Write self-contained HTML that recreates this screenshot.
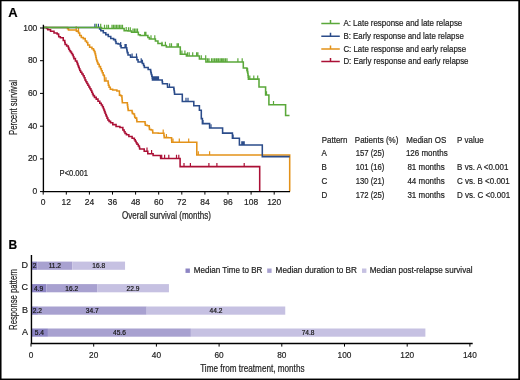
<!DOCTYPE html>
<html><head><meta charset="utf-8"><style>
html,body{margin:0;padding:0;background:#fff;}
svg{display:block;font-family:"Liberation Sans",sans-serif;will-change:transform;}
text{stroke:#222;stroke-width:0.2px;}
</style></head><body>
<svg width="520" height="380" viewBox="0 0 520 380">
<rect width="520" height="380" fill="#fff"/>
<rect x="0" y="0" width="520" height="1.25" fill="#000"/>
<rect x="0" y="0" width="1.53" height="380" fill="#000"/>
<rect x="518.28" y="0" width="1.72" height="380" fill="#000"/>
<rect x="0" y="378.55" width="520" height="1.45" fill="#000"/>
<text x="8.2" y="17" font-size="13" font-weight="bold" fill="#000">A</text>
<path d="M43.20,27.40 L67.50,27.40 L67.50,28.70 L68.50,28.70 L68.50,29.90 L69.50,29.90 L76.20,29.90 L76.40,29.90 L76.40,31.10 L76.60,31.10 L77.40,31.10 L77.40,31.50 L78.20,31.50 L78.55,31.50 L78.55,33.00 L78.90,33.00 L79.70,33.00 L79.70,35.40 L80.50,35.40 L81.30,35.40 L81.30,37.40 L82.10,37.40 L83.30,37.40 L83.30,38.60 L84.50,38.60 L85.25,38.60 L85.25,40.90 L86.00,40.90 L86.60,40.90 L86.60,42.50 L87.20,42.50 L87.80,42.50 L87.80,44.90 L88.40,44.90 L89.60,44.90 L89.60,47.30 L90.80,47.30 L91.95,47.30 L91.95,48.80 L93.10,48.80 L93.50,48.80 L93.50,50.20 L94.30,50.20 L94.30,51.60 L94.70,51.60 L95.00,51.60 L95.00,53.60 L95.30,53.60 L95.50,53.60 L95.50,55.57 L95.90,55.57 L95.90,57.53 L96.30,57.53 L96.30,59.50 L96.50,59.50 L96.80,59.50 L96.80,61.07 L97.40,61.07 L97.40,62.63 L98.00,62.63 L98.00,64.20 L98.30,64.20 L99.20,64.20 L99.20,66.60 L100.10,66.60 L100.52,66.60 L100.52,68.65 L101.38,68.65 L101.38,70.70 L101.80,70.70 L102.25,70.70 L102.25,72.80 L103.15,72.80 L103.15,74.90 L103.60,74.90 L104.00,74.90 L104.00,75.70 L104.40,75.70 L104.43,75.70 L104.43,77.47 L104.50,77.47 L104.50,79.23 L104.57,79.23 L104.57,81.00 L104.60,81.00 L108.00,81.00 L108.12,81.00 L108.12,83.10 L108.38,83.10 L108.38,85.20 L108.50,85.20 L109.10,85.20 L109.10,87.25 L110.30,87.25 L110.30,89.30 L110.90,89.30 L112.65,89.30 L112.65,89.90 L114.40,89.90 L116.90,89.90 L116.90,90.90 L119.40,90.90 L119.43,90.90 L119.43,93.00 L119.47,93.00 L119.47,95.10 L119.50,95.10 L120.65,95.10 L120.65,95.70 L121.80,95.70 L121.88,95.70 L121.88,97.47 L122.03,97.47 L122.03,99.25 L122.17,99.25 L122.17,101.03 L122.33,101.03 L122.33,102.80 L122.40,102.80 L127.20,102.80 L127.35,102.80 L127.35,104.85 L127.65,104.85 L127.65,106.90 L127.80,106.90 L127.92,106.90 L127.92,108.65 L128.18,108.65 L128.18,110.40 L128.30,110.40 L131.90,110.40 L132.05,110.40 L132.05,111.90 L132.35,111.90 L132.35,113.40 L132.50,113.40 L133.40,113.40 L133.40,114.00 L134.30,114.00 L134.45,114.00 L134.45,115.75 L134.75,115.75 L134.75,117.50 L134.90,117.50 L135.75,117.50 L135.75,118.10 L136.60,118.10 L136.70,118.10 L136.70,119.90 L136.90,119.90 L136.90,121.70 L137.00,121.70 L144.90,121.70 L145.05,121.70 L145.05,123.45 L145.35,123.45 L145.35,125.20 L145.50,125.20 L147.30,125.20 L147.30,125.80 L149.10,125.80 L149.22,125.80 L149.22,127.60 L149.47,127.60 L149.47,129.40 L149.60,129.40 L151.10,129.40 L151.10,130.00 L152.60,130.00 L152.65,130.00 L152.65,131.50 L152.75,131.50 L152.75,133.00 L152.80,133.00 L158.30,133.00 L158.30,133.20 L163.80,133.20 L163.93,133.20 L163.93,135.40 L164.18,135.40 L164.18,137.60 L164.30,137.60 L167.90,137.60 L167.90,137.80 L171.50,137.80 L171.60,137.80 L171.60,140.05 L171.80,140.05 L171.80,142.30 L171.90,142.30 L196.80,142.30 L196.80,155.00 L289.70,155.00 L289.70,191.60" stroke="#e39219" stroke-width="1.55" fill="none"/>
<path d="M76.2,29.9 V26.2 M78.5,31.5 V27.8 M106.0,81.0 V77.3 M163.2,133.2 V129.5 M166.4,137.6 V133.9 M173.0,142.3 V138.6 M179.3,142.3 V138.6 M188.7,142.3 V138.6 M198.3,155.0 V151.3 M209.6,155.0 V151.3" stroke="#e39219" stroke-width="1.2" fill="none"/>
<path d="M43.20,27.40 L46.30,27.40 L46.55,27.40 L46.55,28.50 L46.80,28.50 L47.80,28.50 L47.80,29.80 L48.80,29.80 L50.55,29.80 L50.55,31.20 L52.30,31.20 L54.00,31.20 L54.00,32.90 L55.70,32.90 L57.10,32.90 L57.10,33.90 L58.50,33.90 L58.58,33.90 L58.58,35.30 L58.72,35.30 L58.72,36.70 L58.80,36.70 L60.35,36.70 L60.35,37.70 L61.90,37.70 L63.25,37.70 L63.25,40.40 L64.60,40.40 L64.77,40.40 L64.77,42.45 L65.12,42.45 L65.12,44.50 L65.30,44.50 L66.65,44.50 L66.65,45.90 L68.00,45.90 L68.28,45.90 L68.28,47.60 L68.82,47.60 L68.82,49.30 L69.10,49.30 L69.57,49.30 L69.57,50.65 L70.53,50.65 L70.53,52.00 L71.00,52.00 L71.50,52.00 L71.50,53.50 L72.50,53.50 L72.50,55.00 L73.00,55.00 L73.30,55.00 L73.30,56.80 L73.90,56.80 L73.90,58.60 L74.20,58.60 L75.40,58.60 L75.40,60.90 L76.60,60.90 L76.88,60.90 L76.88,62.50 L77.45,62.50 L77.45,64.10 L78.02,64.10 L78.02,65.70 L78.30,65.70 L78.60,65.70 L78.60,67.27 L79.20,67.27 L79.20,68.83 L79.80,68.83 L79.80,70.40 L80.10,70.40 L80.70,70.40 L80.70,72.17 L81.90,72.17 L81.90,73.93 L83.10,73.93 L83.10,75.70 L83.70,75.70 L84.12,75.70 L84.12,77.80 L84.98,77.80 L84.98,79.90 L85.40,79.90 L85.90,79.90 L85.90,81.67 L86.90,81.67 L86.90,83.43 L87.90,83.43 L87.90,85.20 L88.40,85.20 L88.90,85.20 L88.90,86.97 L89.90,86.97 L89.90,88.73 L90.90,88.73 L90.90,90.50 L91.40,90.50 L91.77,90.50 L91.77,92.20 L92.50,92.20 L92.50,93.90 L93.23,93.90 L93.23,95.60 L93.60,95.60 L94.47,95.60 L94.47,97.35 L96.22,97.35 L96.22,99.10 L97.10,99.10 L98.00,99.10 L98.00,101.20 L99.80,101.20 L99.80,103.30 L100.70,103.30 L101.28,103.30 L101.28,105.05 L102.42,105.05 L102.42,106.80 L103.00,106.80 L103.30,106.80 L103.30,108.40 L103.90,108.40 L103.90,110.00 L104.50,110.00 L104.50,111.60 L104.80,111.60 L105.10,111.60 L105.10,113.17 L105.70,113.17 L105.70,114.73 L106.30,114.73 L106.30,116.30 L106.60,116.30 L107.02,116.30 L107.02,118.10 L107.88,118.10 L107.88,119.90 L108.30,119.90 L109.05,119.90 L109.05,121.35 L110.55,121.35 L110.55,122.80 L111.30,122.80 L112.80,122.80 L112.80,124.60 L114.30,124.60 L116.05,124.60 L116.05,126.40 L117.80,126.40 L119.90,126.40 L119.90,127.50 L122.00,127.50 L122.85,127.50 L122.85,129.90 L123.70,129.90 L124.15,129.90 L124.15,131.70 L125.05,131.70 L125.05,133.50 L125.50,133.50 L126.45,133.50 L126.45,134.70 L127.40,134.70 L128.85,134.70 L128.85,136.50 L130.30,136.50 L132.10,136.50 L132.10,138.30 L133.90,138.30 L134.35,138.30 L134.35,139.75 L135.25,139.75 L135.25,141.20 L135.70,141.20 L136.12,141.20 L136.12,142.70 L136.97,142.70 L136.97,144.20 L137.40,144.20 L138.30,144.20 L138.30,146.00 L139.20,146.00 L139.35,146.00 L139.35,147.45 L139.65,147.45 L139.65,148.90 L139.80,148.90 L143.90,148.90 L144.20,148.90 L144.20,151.30 L144.50,151.30 L147.50,151.30 L147.80,151.30 L147.80,153.70 L148.10,153.70 L152.80,153.70 L153.10,153.70 L153.10,155.40 L153.40,155.40 L160.50,155.40 L160.55,155.40 L160.55,156.90 L160.65,156.90 L160.65,158.40 L160.70,158.40 L180.10,158.40 L180.10,166.60 L259.70,166.60 L259.70,191.60" stroke="#ab1036" stroke-width="1.55" fill="none"/>
<path d="M147.0,151.3 V147.6 M151.6,153.7 V150.0 M161.7,158.4 V154.7 M164.6,158.4 V154.7 M168.8,158.4 V154.7 M176.5,158.4 V154.7 M178.8,158.4 V154.7 M184.0,166.6 V162.9 M190.4,166.6 V162.9 M208.9,166.6 V162.9 M216.9,166.6 V162.9 M244.2,166.6 V162.9" stroke="#ab1036" stroke-width="1.2" fill="none"/>
<path d="M43.20,27.40 L99.60,27.40 L99.60,28.90 L100.84,28.90 L100.84,30.80 L103.32,30.80 L103.32,32.70 L105.80,32.70 L105.80,34.60 L108.28,34.60 L108.28,36.50 L110.76,36.50 L110.76,38.40 L112.00,38.40 L113.60,38.40 L113.60,39.60 L115.20,39.60 L115.47,39.60 L115.47,41.55 L116.03,41.55 L116.03,43.50 L116.30,43.50 L118.10,43.50 L118.10,43.90 L119.90,43.90 L120.30,43.90 L120.30,45.85 L121.10,45.85 L121.10,47.80 L121.50,47.80 L126.60,47.80 L126.73,47.80 L126.73,49.40 L127.00,49.40 L127.00,51.00 L127.27,51.00 L127.27,52.60 L127.40,52.60 L128.00,52.60 L128.00,55.00 L128.60,55.00 L130.55,55.00 L130.55,57.30 L132.50,57.30 L136.50,57.30 L136.90,57.30 L136.90,59.70 L137.30,59.70 L138.05,59.70 L138.05,62.00 L138.80,62.00 L141.50,62.00 L142.35,62.00 L142.35,63.50 L143.20,63.50 L143.57,63.50 L143.57,65.45 L144.32,65.45 L144.32,67.40 L144.70,67.40 L147.90,67.40 L148.15,67.40 L148.15,69.50 L148.40,69.50 L150.50,69.50 L150.62,69.50 L150.62,71.05 L150.88,71.05 L150.88,72.60 L151.00,72.60 L151.28,72.60 L151.28,74.45 L151.82,74.45 L151.82,76.30 L152.10,76.30 L152.22,76.30 L152.22,78.15 L152.47,78.15 L152.47,80.00 L152.60,80.00 L162.10,80.00 L162.22,80.00 L162.22,81.85 L162.47,81.85 L162.47,83.70 L162.60,83.70 L167.40,83.70 L167.45,83.70 L167.45,85.45 L167.55,85.45 L167.55,87.20 L167.60,87.20 L173.70,87.20 L173.82,87.20 L173.82,88.85 L174.07,88.85 L174.07,90.50 L174.20,90.50 L174.32,90.50 L174.32,92.35 L174.57,92.35 L174.57,94.20 L174.70,94.20 L178.50,94.20 L178.50,94.30 L182.30,94.30 L182.30,101.50 L193.80,101.50 L193.80,105.80 L199.40,105.80 L199.40,110.30 L201.30,110.30 L201.30,118.60 L202.40,118.60 L202.40,123.60 L209.60,123.60 L209.60,127.90 L222.60,127.90 L222.60,133.10 L232.40,133.10 L232.40,138.30 L239.40,138.30 L239.40,145.00 L262.30,145.00 L262.30,156.60 L289.70,156.60" stroke="#2b4c8a" stroke-width="1.55" fill="none"/>
<path d="M94.9,27.4 V23.7 M98.4,27.4 V23.7 M120.7,45.8 V42.1 M125.0,47.8 V44.1 M126.2,47.8 V44.1 M132.1,57.3 V53.6 M136.5,57.3 V53.6 M141.2,62.0 V58.3 M142.4,63.5 V59.8 M153.5,80.0 V76.3 M154.5,80.0 V76.3 M155.5,80.0 V76.3 M156.5,80.0 V76.3 M157.5,80.0 V76.3 M158.5,80.0 V76.3 M169.5,87.2 V83.5 M186.0,101.5 V97.8 M188.0,101.5 V97.8 M203.0,123.6 V119.9 M211.0,127.9 V124.2 M233.1,138.3 V134.6 M241.8,145.0 V141.3 M243.0,145.0 V141.3 M244.2,145.0 V141.3" stroke="#2b4c8a" stroke-width="1.2" fill="none"/>
<path d="M43.20,27.40 L101.60,27.40 L101.60,28.50 L123.80,28.50 L124.15,28.50 L124.15,30.80 L124.50,30.80 L128.00,30.80 L128.00,30.90 L131.50,30.90 L131.50,32.20 L134.35,32.20 L134.35,32.30 L137.20,32.30 L138.35,32.30 L138.35,34.70 L139.50,34.70 L140.10,34.70 L140.10,35.50 L140.70,35.50 L147.00,35.50 L147.90,35.50 L147.90,37.50 L148.80,37.50 L149.35,37.50 L149.35,39.00 L149.90,39.00 L154.50,39.00 L155.40,39.00 L155.40,41.00 L156.30,41.00 L157.95,41.00 L157.95,43.50 L159.60,43.50 L161.90,43.50 L161.90,45.40 L164.20,45.40 L166.35,45.40 L166.35,46.90 L168.50,46.90 L180.30,46.90 L180.30,54.30 L186.40,54.30 L186.40,56.00 L199.40,56.00 L199.40,59.00 L205.90,59.00 L205.90,62.00 L243.30,62.00 L243.30,67.90 L246.60,67.90 L246.90,67.90 L246.90,70.50 L247.20,70.50 L247.38,70.50 L247.38,71.85 L247.72,71.85 L247.72,73.20 L247.90,73.20 L248.00,73.20 L248.00,75.17 L248.20,75.17 L248.20,77.13 L248.40,77.13 L248.40,79.10 L248.50,79.10 L259.00,79.10 L259.00,87.00 L265.60,87.00 L265.60,94.90 L268.90,94.90 L268.90,104.70 L285.60,104.70 L285.60,115.50 L289.50,115.50" stroke="#5aa83a" stroke-width="1.55" fill="none"/>
<path d="M96.4,27.4 V23.7 M100.7,27.4 V23.7 M104.5,28.5 V24.8 M106.8,28.5 V24.8 M108.5,28.5 V24.8 M112.0,28.5 V24.8 M113.5,28.5 V24.8 M115.0,28.5 V24.8 M116.5,28.5 V24.8 M118.0,28.5 V24.8 M119.5,28.5 V24.8 M121.0,28.5 V24.8 M122.5,28.5 V24.8 M126.2,30.8 V27.1 M128.5,30.9 V27.2 M130.3,30.9 V27.2 M133.0,32.2 V28.5 M134.5,32.3 V28.6 M136.0,32.3 V28.6 M137.5,32.3 V28.6 M144.7,35.5 V31.8 M145.9,35.5 V31.8 M151.0,39.0 V35.3 M154.8,39.0 V35.3 M162.0,45.4 V41.7 M165.4,45.4 V41.7 M169.8,46.9 V43.2 M171.5,46.9 V43.2 M177.1,46.9 V43.2 M178.4,46.9 V43.2 M181.9,54.3 V50.6 M184.9,54.3 V50.6 M187.5,56.0 V52.3 M189.2,56.0 V52.3 M192.7,56.0 V52.3 M196.6,56.0 V52.3 M197.9,56.0 V52.3 M201.3,59.0 V55.3 M205.7,59.0 V55.3 M207.6,62.0 V58.3 M209.0,62.0 V58.3 M211.5,62.0 V58.3 M213.0,62.0 V58.3 M214.5,62.0 V58.3 M216.0,62.0 V58.3 M217.1,62.0 V58.3 M218.5,62.0 V58.3 M220.0,62.0 V58.3 M221.4,62.0 V58.3 M222.7,62.0 V58.3 M224.0,62.0 V58.3 M225.5,62.0 V58.3 M227.0,62.0 V58.3 M237.9,62.0 V58.3 M242.2,62.0 V58.3 M247.6,71.8 V68.1 M249.8,79.1 V75.4 M253.8,79.1 V75.4 M257.7,79.1 V75.4 M266.5,94.9 V91.2 M273.5,104.7 V101.0" stroke="#5aa83a" stroke-width="1.2" fill="none"/>
<path d="M43.4,24.8 V191.55 H290" stroke="#000" stroke-width="1.35" fill="none"/>
<path d="M40,191.6 H43.4 M40,158.9 H43.4 M40,126.2 H43.4 M40,93.4 H43.4 M40,60.7 H43.4 M40,28.0 H43.4 M43.2,191.6 V194.6 M66.3,191.6 V194.6 M89.4,191.6 V194.6 M112.5,191.6 V194.6 M135.6,191.6 V194.6 M158.7,191.6 V194.6 M181.8,191.6 V194.6 M204.9,191.6 V194.6 M228.0,191.6 V194.6 M251.1,191.6 V194.6 M274.2,191.6 V194.6" stroke="#000" stroke-width="1" fill="none"/>
<text transform="translate(37.3,194.10) scale(0.9,1)" font-size="9.4" text-anchor="end" fill="#222">0</text>
<text transform="translate(37.3,161.38) scale(0.9,1)" font-size="9.4" text-anchor="end" fill="#222">20</text>
<text transform="translate(37.3,128.66) scale(0.9,1)" font-size="9.4" text-anchor="end" fill="#222">40</text>
<text transform="translate(37.3,95.94) scale(0.9,1)" font-size="9.4" text-anchor="end" fill="#222">60</text>
<text transform="translate(37.3,63.22) scale(0.9,1)" font-size="9.4" text-anchor="end" fill="#222">80</text>
<text transform="translate(37.3,30.50) scale(0.9,1)" font-size="9.4" text-anchor="end" fill="#222">100</text>
<text transform="translate(43.20,205.2) scale(0.9,1)" font-size="9.4" text-anchor="middle" fill="#222">0</text>
<text transform="translate(66.30,205.2) scale(0.9,1)" font-size="9.4" text-anchor="middle" fill="#222">12</text>
<text transform="translate(89.40,205.2) scale(0.9,1)" font-size="9.4" text-anchor="middle" fill="#222">24</text>
<text transform="translate(112.50,205.2) scale(0.9,1)" font-size="9.4" text-anchor="middle" fill="#222">36</text>
<text transform="translate(135.60,205.2) scale(0.9,1)" font-size="9.4" text-anchor="middle" fill="#222">48</text>
<text transform="translate(158.70,205.2) scale(0.9,1)" font-size="9.4" text-anchor="middle" fill="#222">60</text>
<text transform="translate(181.80,205.2) scale(0.9,1)" font-size="9.4" text-anchor="middle" fill="#222">72</text>
<text transform="translate(204.90,205.2) scale(0.9,1)" font-size="9.4" text-anchor="middle" fill="#222">84</text>
<text transform="translate(228.00,205.2) scale(0.9,1)" font-size="9.4" text-anchor="middle" fill="#222">96</text>
<text transform="translate(251.10,205.2) scale(0.9,1)" font-size="9.4" text-anchor="middle" fill="#222">108</text>
<text transform="translate(274.20,205.2) scale(0.9,1)" font-size="9.4" text-anchor="middle" fill="#222">120</text>
<text x="122" y="219.3" font-size="10" textLength="89" lengthAdjust="spacingAndGlyphs" fill="#222">Overall survival (months)</text>
<text transform="translate(16.8,135.0) rotate(-90)" font-size="10.3" textLength="54.9" lengthAdjust="spacingAndGlyphs" fill="#222">Percent survival</text>
<text x="59.6" y="175.6" font-size="8.2" textLength="28.4" lengthAdjust="spacingAndGlyphs" fill="#222">P&lt;0.001</text>
<path d="M321.3,23.5 H339.8 M330.5,23.5 V20.0" stroke="#5aa83a" stroke-width="1.5" fill="none"/>
<text x="343.4" y="26.1" font-size="8.7" textLength="118.9" lengthAdjust="spacingAndGlyphs" fill="#222">A: Late response and late relapse</text>
<path d="M321.3,36.2 H339.8 M330.5,36.2 V32.7" stroke="#2b4c8a" stroke-width="1.5" fill="none"/>
<text x="343.4" y="38.8" font-size="8.7" textLength="120.4" lengthAdjust="spacingAndGlyphs" fill="#222">B: Early response and late relapse</text>
<path d="M321.3,48.9 H339.8 M330.5,48.9 V45.4" stroke="#e39219" stroke-width="1.5" fill="none"/>
<text x="343.4" y="51.6" font-size="8.7" textLength="122.8" lengthAdjust="spacingAndGlyphs" fill="#222">C: Late response and early relapse</text>
<path d="M321.3,61.6 H339.8 M330.5,61.6 V58.1" stroke="#ab1036" stroke-width="1.5" fill="none"/>
<text x="343.4" y="64.2" font-size="8.7" textLength="125.1" lengthAdjust="spacingAndGlyphs" fill="#222">D: Early response and early relapse</text>
<text transform="translate(321.7,142.9) scale(0.93,1)" font-size="8.6" fill="#222">Pattern</text>
<text transform="translate(354.8,142.9) scale(0.93,1)" font-size="8.6" fill="#222">Patients (%)</text>
<text transform="translate(406.3,142.9) scale(0.93,1)" font-size="8.6" fill="#222">Median OS</text>
<text transform="translate(457.1,142.9) scale(0.93,1)" font-size="8.6" fill="#222">P value</text>
<text transform="translate(321.5,156.2) scale(0.93,1)" font-size="8.6" fill="#222">A</text>
<text transform="translate(355.7,156.2) scale(0.895,1)" font-size="8.6" fill="#222">157 (25)</text>
<text transform="translate(405.9,156.2) scale(0.93,1)" font-size="8.6" fill="#222">126 months</text>
<text transform="translate(321.5,170.1) scale(0.93,1)" font-size="8.6" fill="#222">B</text>
<text transform="translate(355.7,170.1) scale(0.895,1)" font-size="8.6" fill="#222">101 (16)</text>
<text transform="translate(407.4,170.1) scale(0.93,1)" font-size="8.6" fill="#222">81 months</text>
<text transform="translate(457.1,170.1) scale(0.93,1)" font-size="8.6" fill="#222">B vs. A &lt;0.001</text>
<text transform="translate(321.5,184.4) scale(0.93,1)" font-size="8.6" fill="#222">C</text>
<text transform="translate(355.7,184.4) scale(0.895,1)" font-size="8.6" fill="#222">130 (21)</text>
<text transform="translate(407.4,184.4) scale(0.93,1)" font-size="8.6" fill="#222">44 months</text>
<text transform="translate(457.1,184.4) scale(0.93,1)" font-size="8.6" fill="#222">C vs. B &lt;0.001</text>
<text transform="translate(321.5,198.2) scale(0.93,1)" font-size="8.6" fill="#222">D</text>
<text transform="translate(355.7,198.2) scale(0.895,1)" font-size="8.6" fill="#222">172 (25)</text>
<text transform="translate(407.4,198.2) scale(0.93,1)" font-size="8.6" fill="#222">31 months</text>
<text transform="translate(457.1,198.2) scale(0.93,1)" font-size="8.6" fill="#222">D vs. C &lt;0.001</text>
<text x="8.5" y="248.8" font-size="12" font-weight="bold" fill="#000">B</text>
<rect x="31.00" y="261.6" width="6.27" height="8.2" fill="#8d85c4"/>
<rect x="37.27" y="261.6" width="35.11" height="8.2" fill="#a8a1d0"/>
<rect x="72.38" y="261.6" width="52.67" height="8.2" fill="#c6c1e2"/>
<text x="32.80" y="268.3" font-size="6.6" fill="#111">2</text>
<text x="54.83" y="268.3" font-size="6.6" text-anchor="middle" fill="#111">11.2</text>
<text x="98.72" y="268.3" font-size="6.6" text-anchor="middle" fill="#111">16.8</text>
<text x="28.1" y="267.7" font-size="9" text-anchor="end" fill="#222">D</text>
<rect x="31.00" y="284.1" width="15.36" height="8.2" fill="#8d85c4"/>
<rect x="46.36" y="284.1" width="50.79" height="8.2" fill="#a8a1d0"/>
<rect x="97.15" y="284.1" width="71.79" height="8.2" fill="#c6c1e2"/>
<text x="38.68" y="290.8" font-size="6.6" text-anchor="middle" fill="#111">4.9</text>
<text x="71.75" y="290.8" font-size="6.6" text-anchor="middle" fill="#111">16.2</text>
<text x="133.04" y="290.8" font-size="6.6" text-anchor="middle" fill="#111">22.9</text>
<text x="28.1" y="290.2" font-size="9" text-anchor="end" fill="#222">C</text>
<rect x="31.00" y="306.5" width="6.90" height="8.2" fill="#8d85c4"/>
<rect x="37.90" y="306.5" width="108.78" height="8.2" fill="#a8a1d0"/>
<rect x="146.68" y="306.5" width="138.57" height="8.2" fill="#c6c1e2"/>
<text x="32.80" y="313.2" font-size="6.6" fill="#111">2.2</text>
<text x="92.29" y="313.2" font-size="6.6" text-anchor="middle" fill="#111">34.7</text>
<text x="215.97" y="313.2" font-size="6.6" text-anchor="middle" fill="#111">44.2</text>
<text x="28.1" y="312.6" font-size="9" text-anchor="end" fill="#222">B</text>
<rect x="31.00" y="328.5" width="16.93" height="8.2" fill="#8d85c4"/>
<rect x="47.93" y="328.5" width="142.96" height="8.2" fill="#a8a1d0"/>
<rect x="190.88" y="328.5" width="234.50" height="8.2" fill="#c6c1e2"/>
<text x="39.46" y="335.2" font-size="6.6" text-anchor="middle" fill="#111">5.4</text>
<text x="119.41" y="335.2" font-size="6.6" text-anchor="middle" fill="#111">45.6</text>
<text x="308.13" y="335.2" font-size="6.6" text-anchor="middle" fill="#111">74.8</text>
<text x="28.1" y="334.6" font-size="9" text-anchor="end" fill="#222">A</text>
<path d="M31.45,255 V343.5 H472.7" stroke="#000" stroke-width="1.4" fill="none"/>
<path d="M31.0,343.5 V346.6 M93.7,343.5 V346.6 M156.4,343.5 V346.6 M219.1,343.5 V346.6 M281.8,343.5 V346.6 M344.5,343.5 V346.6 M407.2,343.5 V346.6 M469.9,343.5 V346.6" stroke="#000" stroke-width="1" fill="none"/>
<text transform="translate(31.00,357.6) scale(0.9,1)" font-size="9.2" text-anchor="middle" fill="#222">0</text>
<text transform="translate(93.70,357.6) scale(0.9,1)" font-size="9.2" text-anchor="middle" fill="#222">20</text>
<text transform="translate(156.40,357.6) scale(0.9,1)" font-size="9.2" text-anchor="middle" fill="#222">40</text>
<text transform="translate(219.10,357.6) scale(0.9,1)" font-size="9.2" text-anchor="middle" fill="#222">60</text>
<text transform="translate(281.80,357.6) scale(0.9,1)" font-size="9.2" text-anchor="middle" fill="#222">80</text>
<text transform="translate(344.50,357.6) scale(0.9,1)" font-size="9.2" text-anchor="middle" fill="#222">100</text>
<text transform="translate(407.20,357.6) scale(0.9,1)" font-size="9.2" text-anchor="middle" fill="#222">120</text>
<text transform="translate(469.90,357.6) scale(0.9,1)" font-size="9.2" text-anchor="middle" fill="#222">140</text>
<text x="200.2" y="371.7" font-size="10.4" textLength="104.3" lengthAdjust="spacingAndGlyphs" fill="#222">Time from treatment, months</text>
<text transform="translate(16.8,329.9) rotate(-90)" font-size="10.6" textLength="61" lengthAdjust="spacingAndGlyphs" fill="#222">Response pattern</text>
<rect x="185.5" y="268.5" width="4.4" height="4.4" fill="#8d85c4"/>
<text x="193.75" y="273.2" font-size="8.2" textLength="68.6" lengthAdjust="spacingAndGlyphs" fill="#222">Median Time to BR</text>
<rect x="267.2" y="268.5" width="4.4" height="4.4" fill="#a8a1d0"/>
<text x="275.6" y="273.2" font-size="8.2" textLength="81.3" lengthAdjust="spacingAndGlyphs" fill="#222">Median duration to BR</text>
<rect x="362.0" y="268.5" width="4.4" height="4.4" fill="#c6c1e2"/>
<text x="369.7" y="273.2" font-size="8.2" textLength="102.8" lengthAdjust="spacingAndGlyphs" fill="#222">Median post-relapse survival</text>
</svg>
</body></html>
